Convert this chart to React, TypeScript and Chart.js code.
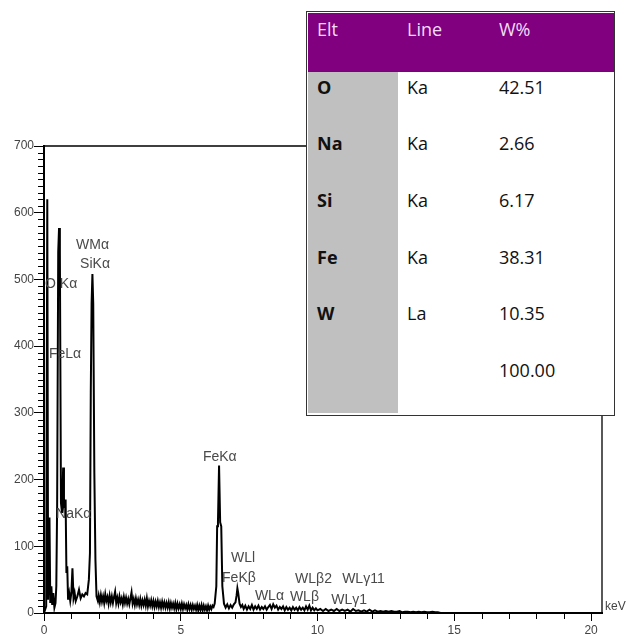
import React, { useEffect, useRef } from 'react';
import { Chart, registerables } from 'chart.js';
Chart.register(...registerables);

// ---- spectrum data (keV, counts) ----
const energyKeV = [
  0.00, 0.08, 0.12, 0.15, 0.20, 0.23, 0.27, 0.30, 0.34, 0.38, 0.42, 0.45, 0.48, 0.52, 0.55, 0.58,
  0.62, 0.66, 0.70, 0.73, 0.76, 0.79, 0.82, 0.85, 0.88, 0.92, 0.96, 1.00, 1.04, 1.08, 1.12, 1.16,
  1.22, 1.28, 1.34, 1.40, 1.46, 1.52, 1.58, 1.64, 1.68, 1.71, 1.74, 1.77, 1.80, 1.84, 1.88, 1.92,
  1.97,
  2.00, 2.04, 2.08, 2.12, 2.16, 2.20, 2.24, 2.28, 2.32, 2.36, 2.40, 2.44, 2.48, 2.52, 2.56, 2.60,
  2.64, 2.68, 2.72, 2.76, 2.80, 2.84, 2.88, 2.92, 2.96, 3.00, 3.04, 3.08, 3.12, 3.16, 3.20, 3.24,
  3.28, 3.32, 3.36, 3.40, 3.44, 3.48, 3.52, 3.56, 3.60, 3.64, 3.68, 3.72, 3.76, 3.80, 3.84, 3.88,
  3.92, 3.96, 4.00, 4.04, 4.08, 4.12, 4.16, 4.20, 4.24, 4.28, 4.32, 4.36, 4.40, 4.44, 4.48, 4.52,
  4.56, 4.60, 4.64, 4.68, 4.72, 4.76, 4.80, 4.84, 4.88, 4.92, 4.96, 5.00, 5.04, 5.08, 5.12, 5.16,
  5.20, 5.24, 5.28, 5.32, 5.36, 5.40, 5.44, 5.48, 5.52, 5.56, 5.60, 5.64, 5.68, 5.72, 5.76, 5.80,
  5.84, 5.88, 5.92, 5.96, 6.00, 6.04, 6.08, 6.12, 6.16, 6.20,
  6.24, 6.30, 6.33, 6.36, 6.40, 6.44, 6.48, 6.52, 6.58, 6.64, 6.70, 6.76, 6.82, 6.88, 6.94, 7.00,
  7.04, 7.07, 7.10, 7.15, 7.20, 7.25,
  7.30, 7.36, 7.42, 7.48, 7.54, 7.60, 7.66, 7.72, 7.78, 7.84, 7.90, 7.96, 8.02, 8.08, 8.14, 8.20,
  8.26, 8.32, 8.38, 8.44, 8.50, 8.56, 8.62, 8.68, 8.74, 8.80, 8.86, 8.92, 8.98, 9.04, 9.10, 9.16,
  9.22, 9.28, 9.34, 9.40, 9.46, 9.52, 9.58, 9.64, 9.70, 9.76, 9.82, 9.88, 9.94, 10.00,
  10.10, 10.20, 10.30, 10.40, 10.50, 10.60, 10.70, 10.80, 10.90, 11.00, 11.10, 11.20, 11.30,
  11.40, 11.50, 11.60, 11.70, 11.80, 11.90, 12.00, 12.10, 12.20, 12.30, 12.40, 12.50, 12.60,
  12.70, 12.80, 12.90, 13.00, 13.10, 13.20, 13.30, 13.40, 13.50, 13.60, 13.70, 13.80, 13.90,
  14.00, 14.10, 14.20, 14.30, 14.40, 14.50, 14.55,
];
const counts = [
  0, 10, 620, 20, 143, 15, 40, 12, 30, 8, 15, 40, 160, 541, 577, 541,
  165, 150, 218, 160, 150, 170, 60, 70, 20, 30, 18, 30, 67, 22, 30, 18,
  25, 35, 22, 28, 25, 30, 28, 50, 90, 330, 464, 508, 464, 211, 80, 25,
  18,
  26, 16, 27, 17, 25, 15, 28, 18, 24, 14, 26, 16, 25, 15, 24, 32,
  15, 23, 14, 25, 16, 22, 13, 24, 15, 23, 14, 21, 13, 22, 31, 14,
  21, 12, 22, 13, 20, 12, 21, 11, 19, 12, 20, 11, 22, 10, 18, 11,
  19, 10, 18, 9, 17, 10, 18, 9, 16, 8, 17, 9, 16, 8, 15, 8,
  16, 7, 15, 8, 14, 7, 15, 6, 14, 7, 13, 6, 14, 6, 13, 7,
  12, 5, 13, 6, 12, 5, 12, 6, 11, 5, 12, 4, 11, 5, 12, 4,
  11, 5, 10, 4, 11, 5, 10, 6, 11, 9,
  14, 40, 130, 136, 221, 136, 130, 40, 14, 8, 13, 7, 12, 8, 13, 16,
  26, 37, 30, 14, 9, 12,
  6, 11, 5, 10, 6, 12, 5, 10, 6, 11, 5, 9, 6, 10, 5, 9,
  12, 6, 13, 8, 11, 5, 9, 6, 10, 4, 9, 5, 8, 4, 9, 5,
  8, 4, 9, 5, 8, 4, 10, 5, 11, 4, 8, 4, 7, 4,
  6, 3, 6, 3, 5, 3, 6, 3, 5, 3, 5, 2, 6,
  3, 4, 2, 4, 2, 5, 2, 4, 2, 3, 2, 3,
  2, 3, 2, 2, 3, 1, 2, 2, 1, 2, 1, 2, 1,
  2, 1, 1, 2, 1, 1, 0,
];

// ---- axes ----
const xMaxKeV = 20.4;
const yMaxCounts = 700;
const xMajorTicks = [0, 5, 10, 15, 20];
const xMinorTicks = [1, 2, 3, 4, 6, 7, 8, 9, 11, 12, 13, 14, 16, 17, 18, 19];
const yMajorTicks = [0, 100, 200, 300, 400, 500, 600, 700];
const yMinorStep = 10;

// ---- peak labels ----
const peakLabels = ['O Kα', 'WMα', 'SiKα', 'FeLα', 'NaKα', 'FeKα', 'WLl', 'FeKβ', 'WLβ2', 'WLγ11', 'WLα', 'WLβ', 'WLγ1'];
const peakLabelKeV = [0.04, 1.17, 1.32, 0.18, 0.44, 5.81, 6.84, 6.51, 9.18, 10.9, 7.71, 8.99, 10.5];
const peakLabelCounts = [487, 546, 517, 382, 142, 228, 76, 46, 45, 45, 19, 18, 13];

// ---- quantification table ----
const tableHeaders = ['Elt', 'Line', 'W%'];
const tableElements = ['O', 'Na', 'Si', 'Fe', 'W', ''];
const tableLines = ['Ka', 'Ka', 'Ka', 'Ka', 'La', ''];
const tableWeights = ['42.51', '2.66', '6.17', '38.31', '10.35', '100.00'];

const LABEL_FONT = '"Liberation Sans", Arial, sans-serif';

const framePlugin = {
  id: 'frame',
  afterDraw(chart: any) {
    const { ctx, chartArea, scales } = chart;
    const xs = scales.x;
    const ys = scales.y;
    ctx.save();
    // top & right frame lines
    ctx.strokeStyle = '#000';
    ctx.lineWidth = 1.3;
    ctx.beginPath();
    ctx.moveTo(chartArea.left, chartArea.top);
    ctx.lineTo(chartArea.right, chartArea.top);
    ctx.lineTo(chartArea.right, chartArea.bottom);
    ctx.stroke();
    // minor ticks
    ctx.lineWidth = 1;
    ctx.beginPath();
    for (let v = 0; v <= yMaxCounts; v += yMinorStep) {
      if (v % 100 === 0) continue;
      const y = Math.round(ys.getPixelForValue(v)) + 0.5;
      ctx.moveTo(chartArea.left - 6, y);
      ctx.lineTo(chartArea.left, y);
    }
    for (const v of xMinorTicks) {
      const x = Math.round(xs.getPixelForValue(v)) + 0.5;
      ctx.moveTo(x, chartArea.bottom);
      ctx.lineTo(x, chartArea.bottom + 6);
    }
    ctx.stroke();
    // peak labels
    ctx.fillStyle = '#4a4a4a';
    ctx.font = `14px ${LABEL_FONT}`;
    ctx.textAlign = 'left';
    ctx.textBaseline = 'alphabetic';
    peakLabels.forEach((t, i) => {
      ctx.fillText(t, xs.getPixelForValue(peakLabelKeV[i]), ys.getPixelForValue(peakLabelCounts[i]));
    });
    // unit
    ctx.font = `12px ${LABEL_FONT}`;
    ctx.fillStyle = '#444';
    ctx.fillText('keV', chartArea.right + 3, chartArea.bottom - 3);
    ctx.restore();
  },
};

export default function App() {
  const canvasRef = useRef<HTMLCanvasElement | null>(null);

  useEffect(() => {
    if (!canvasRef.current) return;
    const chart = new Chart(canvasRef.current, {
      type: 'line',
      data: {
        datasets: [
          {
            data: energyKeV.map((e, i) => ({ x: e, y: counts[i] })),
            borderColor: '#000',
            borderWidth: 2,
            pointRadius: 0,
            tension: 0,
            fill: false,
          },
        ],
      },
      options: {
        responsive: false,
        animation: false,
        devicePixelRatio: 1,
        layout: { padding: { top: 146, right: 25, left: 0, bottom: 0 } },
        plugins: { legend: { display: false }, tooltip: { enabled: false } },
        scales: {
          x: {
            type: 'linear',
            min: 0,
            max: xMaxKeV,
            afterBuildTicks: (s: any) => {
              s.ticks = xMajorTicks.map((v) => ({ value: v }));
            },
            afterFit: (s: any) => {
              s.height = 26;
            },
            ticks: {
              autoSkip: false,
              maxRotation: 0,
              padding: 2,
              color: '#444',
              font: { family: LABEL_FONT, size: 12 },
            },
            grid: { drawOnChartArea: false, drawTicks: true, tickLength: 8, color: '#000', tickWidth: 1 },
            border: { display: true, color: '#000', width: 2 },
          },
          y: {
            type: 'linear',
            min: 0,
            max: yMaxCounts,
            afterBuildTicks: (s: any) => {
              s.ticks = yMajorTicks.map((v) => ({ value: v }));
            },
            afterFit: (s: any) => {
              s.width = 44;
            },
            ticks: {
              autoSkip: false,
              padding: 0,
              color: '#444',
              font: { family: LABEL_FONT, size: 12 },
            },
            grid: { drawOnChartArea: false, drawTicks: true, tickLength: 10, color: '#000', tickWidth: 1 },
            border: { display: true, color: '#000', width: 2 },
          },
        },
      },
      plugins: [framePlugin],
    } as any);
    return () => chart.destroy();
  }, []);

  const rowCenters = [86.7, 143.3, 200, 256.7, 313.3, 370];
  const colX = [317, 407, 499];
  const textStyle = (left: number, cy: number): React.CSSProperties => ({
    position: 'absolute',
    left,
    top: cy - 13,
    height: 26,
    lineHeight: '26px',
    fontSize: 18,
    whiteSpace: 'nowrap',
  });

  return (
    <div style={{ position: 'absolute', left: 0, top: 0, width: 627, height: 639, background: '#fff', overflow: 'hidden' }}>
      <canvas ref={canvasRef} width={627} height={639} style={{ position: 'absolute', left: 0, top: 0, width: 627, height: 639 }} />
      <div style={{ position: 'absolute', left: 0, top: 0, fontFamily: '"Open Sans", sans-serif' }}>
        <div
          style={{
            position: 'absolute',
            left: 306,
            top: 11,
            width: 309,
            height: 405,
            boxSizing: 'border-box',
            border: '1.5px solid #333',
            background: '#fff',
          }}
        />
        <div style={{ position: 'absolute', left: 307.5, top: 12.5, width: 306, height: 58, background: '#800080', borderBottom: '1.5px solid #333' }} />
        <div style={{ position: 'absolute', left: 307.5, top: 72, width: 90.5, height: 341, background: '#c0c0c0' }} />
        {tableHeaders.map((h, i) => (
          <div key={'h' + i} style={{ ...textStyle(colX[i], 29), color: '#f2dcf7' }}>
            {h}
          </div>
        ))}
        {tableElements.map((el, i) => (
          <div key={'e' + i} style={{ ...textStyle(colX[0], rowCenters[i]), fontWeight: 700, color: '#111' }}>
            {el}
          </div>
        ))}
        {tableLines.map((ln, i) => (
          <div key={'l' + i} style={{ ...textStyle(colX[1], rowCenters[i]), color: '#111' }}>
            {ln}
          </div>
        ))}
        {tableWeights.map((w, i) => (
          <div key={'w' + i} style={{ ...textStyle(colX[2], rowCenters[i]), color: '#111' }}>
            {w}
          </div>
        ))}
      </div>
    </div>
  );
}
